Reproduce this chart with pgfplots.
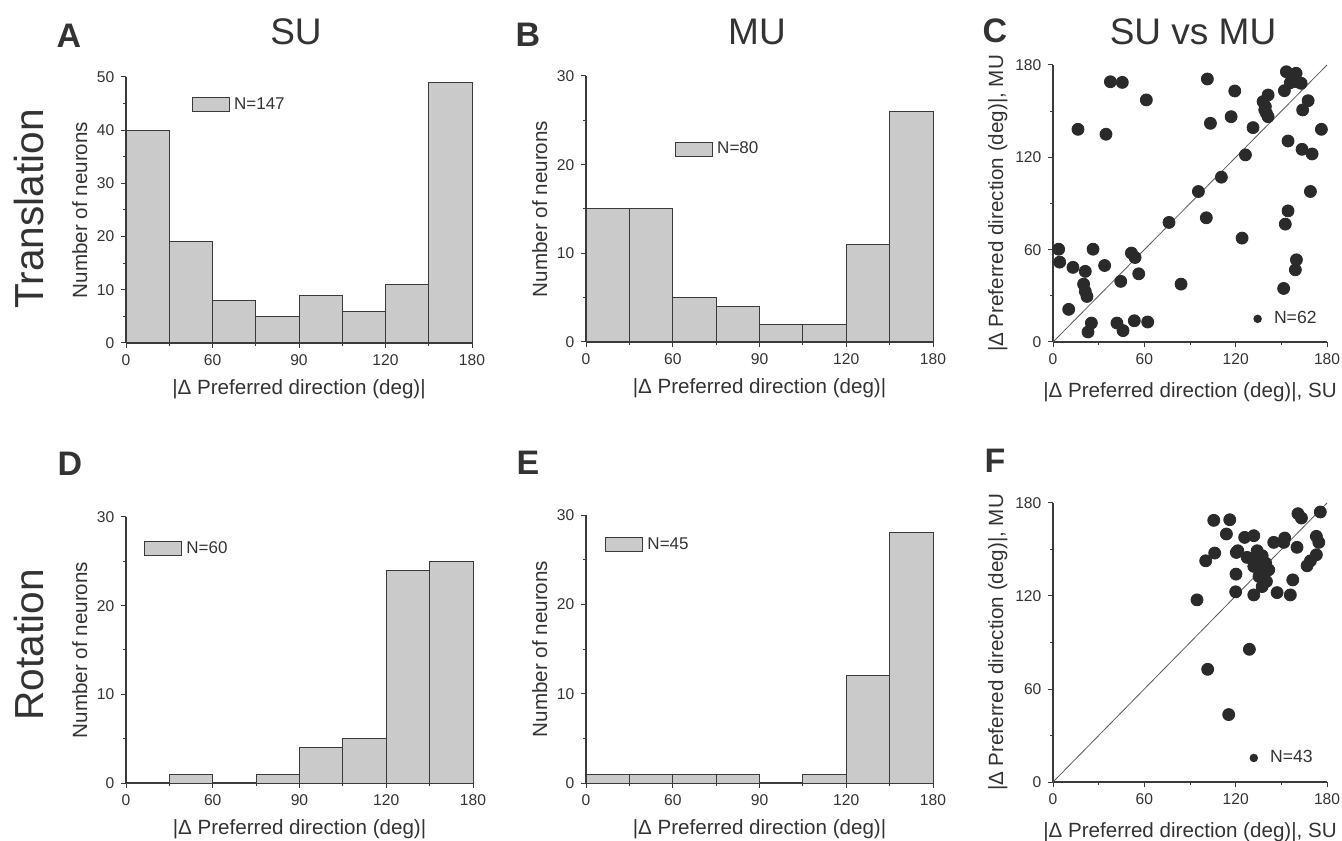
\documentclass[border=0pt]{standalone}
\usepackage{fontspec}
\setmainfont{Liberation Sans}
\usepackage{pgfplots}
\pgfplotsset{compat=1.18}
\definecolor{barfill}{HTML}{CACACA}
\definecolor{axcol}{HTML}{3A3A3A}
\definecolor{dotcol}{HTML}{2A2A2A}
\definecolor{txtcol}{HTML}{333333}
\pgfplotsset{
 base/.style={scale only axis, axis x line*=bottom, axis y line*=left,
  axis line style={axcol, line width=0.6pt}, tick style={axcol, line width=0.5pt},
  tick align=outside, major tick length=2.3pt, minor tick length=1.4pt,
  tick label style={font=\fontsize{7.8}{9}\selectfont, text=txtcol},
  label style={font=\fontsize{10.3}{12}\selectfont, text=txtcol},
  /pgf/number format/assume math mode=true, clip=false},
 hist/.style={base, xmin=0, xmax=8, xtick={0,2,4,6,8}, xticklabels={0,60,90,120,180},
  minor xtick={1,3,5,7}, ymin=0, ylabel shift=-2pt,
  xlabel={|Δ Preferred direction (deg)|}, ylabel={Number of neurons},
  legend style={draw=none, fill=none, anchor=north west, inner sep=0pt,
    font=\fontsize{8.5}{10}\selectfont, text=txtcol}},
 scat/.style={base, xmin=0, xmax=180, ymin=0, ymax=180, xtick={0,60,120,180}, ytick={0,60,120,180},
  minor xtick={30,90,150}, minor ytick={30,90,150}, ylabel shift=-3pt, xlabel shift=2pt,
  xlabel={|Δ Preferred direction (deg)|, SU}, ylabel={|Δ Preferred direction (deg)|, MU},
  legend style={draw=none, fill=none, anchor=south east, inner sep=0pt,
    font=\fontsize{8.8}{10}\selectfont, text=txtcol}},
 histbar/.style={ybar interval, fill=barfill, draw=axcol, line width=0.5pt,
  legend image code/.code={\draw[fill=barfill, draw=axcol, line width=0.5pt] (0pt,-3.5pt) rectangle (18.5pt,3.5pt);}},
 dots/.style={only marks, mark=*, mark size=3pt, mark options={fill=dotcol, draw=dotcol},
  legend image code/.code={\path (-3pt,0pt) (6pt,0pt); \fill[dotcol] (0pt,0pt) circle (1.9pt);}},
 diag/.style={gray!70!black, line width=0.4pt, forget plot}
}
\begin{document}
\begin{tikzpicture}
\path[use as bounding box] (0pt,0pt) rectangle (671pt,420pt);
% text
\begin{scope}[every node/.style={text=txtcol, inner sep=0pt}]
\node[font=\fontsize{18.5}{20}\selectfont] at (148pt,404pt) {SU};
\node[font=\fontsize{18.5}{20}\selectfont] at (378.5pt,404pt) {MU};
\node[font=\fontsize{18.5}{20}\selectfont] at (596.5pt,404pt) {SU vs MU};
\node[font=\fontsize{20.3}{22}\selectfont, rotate=90] at (14.5pt,315.5pt) {Translation};
\node[font=\fontsize{20.3}{22}\selectfont, rotate=90] at (14.5pt,97.5pt) {Rotation};
\node[font=\fontsize{17}{19}\bfseries] at (34.5pt,402pt) {A};
\node[font=\fontsize{17}{19}\bfseries] at (264pt,402.5pt) {B};
\node[font=\fontsize{17}{19}\bfseries] at (497.5pt,404.5pt) {C};
\node[font=\fontsize{17}{19}\bfseries] at (35pt,188pt) {D};
\node[font=\fontsize{17}{19}\bfseries] at (264pt,188.5pt) {E};
\node[font=\fontsize{17}{19}\bfseries] at (497.5pt,189.5pt) {F};
\end{scope}
% A
\begin{axis}[hist, at={(63pt,248.5pt)}, anchor=south west, width=173pt, height=133pt,
  ymax=50, ytick={0,10,...,50}, minor ytick={5,15,...,45},
  legend style={at={(0.19,0.94)}}]
\addplot[histbar] coordinates {(0,40)(1,19)(2,8)(3,5)(4,9)(5,6)(6,11)(7,49)(8,49)};
\addlegendentry{N=147}
\end{axis}
% B
\begin{axis}[hist, at={(293pt,249pt)}, anchor=south west, width=173.5pt, height=133pt,
  ymax=30, ytick={0,10,20,30}, minor ytick={5,15,25},
  legend style={at={(0.256,0.77)}}]
\addplot[histbar] coordinates {(0,15)(1,15)(2,5)(3,4)(4,2)(5,2)(6,11)(7,26)(8,26)};
\addlegendentry{N=80}
\end{axis}
% C
\begin{axis}[scat, at={(526.5pt,249pt)}, anchor=south west, width=137pt, height=138.5pt,
  legend style={at={(0.978,0.04)}}]
\addplot[diag] coordinates {(0,0)(180,180)};
\addplot[dots] table {
x y
3.7 60.3
4.4 51.9
13.1 48.5
16.4 138.2
10.3 21.2
21.2 45.9
20.1 37.6
21.2 32.9
22.3 29.6
26.3 60.3
25.2 12.3
23.0 6.5
33.9 49.7
34.8 135.0
37.7 169.1
45.5 168.7
44.5 39.4
42.0 12.3
46.0 7.4
51.5 57.8
53.9 54.9
56.3 44.3
53.4 13.8
62.2 13.0
61.3 157.3
76.2 77.7
84.1 37.6
95.5 97.8
100.7 80.7
101.4 170.9
103.4 142.1
110.6 107.1
117.0 146.4
119.4 163.1
124.2 67.5
126.4 121.6
131.4 139.3
138.0 156.2
141.3 160.5
139.1 150.8
140.2 148.6
141.3 146.4
152.0 163.3
153.3 175.6
159.7 174.6
155.9 168.5
160.3 169.1
163.0 168.1
154.4 130.6
163.6 125.2
170.2 122.2
167.6 156.8
164.0 150.8
176.3 138.2
169.1 97.8
154.4 85.2
152.6 76.6
159.9 53.4
159.2 46.9
151.5 34.8
157.5 171.0
139.5 153.0
};
\addlegendentry{N=62}
\end{axis}
% D
\begin{axis}[hist, at={(63pt,28.5pt)}, anchor=south west, width=173.5pt, height=133pt,
  ymax=30, ytick={0,10,20,30}, minor ytick={5,15,25},
  legend style={at={(0.052,0.925)}}]
\addplot[histbar] coordinates {(0,0)(1,1)(2,0)(3,1)(4,4)(5,5)(6,24)(7,25)(8,25)};
\addlegendentry{N=60}
\end{axis}
% E
\begin{axis}[hist, at={(293pt,28.5pt)}, anchor=south west, width=173.5pt, height=134pt,
  ymax=30, ytick={0,10,20,30}, minor ytick={5,15,25},
  legend style={at={(0.055,0.933)}}]
\addplot[histbar] coordinates {(0,1)(1,1)(2,1)(3,1)(4,0)(5,1)(6,12)(7,28)(8,28)};
\addlegendentry{N=45}
\end{axis}
% F
\begin{axis}[scat, at={(526.5pt,29pt)}, anchor=south west, width=137pt, height=139.5pt,
  legend style={at={(0.964,0.043)}}]
\addplot[diag] coordinates {(0,0)(180,180)};
\addplot[dots] table {
x y
94.6 117.5
101.6 72.7
115.4 43.5
129.0 85.6
105.6 168.8
116.1 169.2
100.3 142.7
106.2 147.7
113.9 160.0
120.4 148.1
121.4 149.2
120.2 134.1
120.0 122.7
125.9 157.8
131.9 158.9
127.5 144.9
134.1 149.2
137.4 146.0
131.9 139.1
136.3 136.9
141.7 136.9
140.2 129.4
137.4 126.1
131.9 120.7
134.5 143.4
145.0 154.6
152.2 157.4
151.6 154.6
147.2 122.2
155.9 120.7
157.5 130.4
160.3 151.4
160.9 173.1
163.2 170.3
175.6 174.2
173.0 158.5
174.6 154.6
166.9 139.5
169.1 142.7
173.0 146.6
139.7 141.2
138.6 133.7
135.3 132.6
};
\addlegendentry{N=43}
\end{axis}
\end{tikzpicture}
\end{document}
